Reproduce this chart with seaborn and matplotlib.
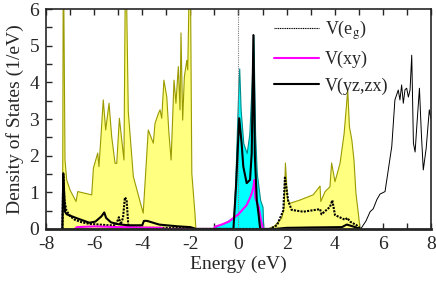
import matplotlib
matplotlib.use("Agg")
import matplotlib.pyplot as plt
from matplotlib.ticker import MultipleLocator
import seaborn as sns

# total DOS (yellow fill), two bands
total_e = [-7.31, -7.28, -7.21, -7.14, -7.00, -6.75, -6.68, -6.10, -6.03, -5.85,
           -5.80, -5.73, -5.62, -5.52, -5.38, -5.27, -5.13, -5.06, -4.95, -4.88,
           -4.76, -4.69, -4.58, -4.37, -3.96, -3.75, -3.54, -3.47, -3.33, -3.26,
           -3.19, -3.10, -2.98, -2.89, -2.80, -2.68, -2.60, -2.50, -2.43, -2.39,
           -2.32, -2.25, -2.15, -2.11, -2.01, -1.94, -1.81, -1.77,
           1.25, 1.50, 1.80, 1.90, 1.95, 2.04, 2.14, 2.56, 3.10, 3.39,
           3.42, 3.60, 3.80, 3.87, 4.01, 4.22, 4.39, 4.54, 4.61, 4.71,
           4.80, 4.88, 4.98, 5.05]
total_dos = [0.0, 8.0, 1.88, 1.34, 1.06, 0.75, 1.02, 0.93, 1.66, 2.07,
             1.70, 2.38, 3.52, 2.70, 3.43, 2.52, 1.79, 1.79, 3.02, 2.60,
             1.88, 8.0, 3.20, 1.43, 0.43, 2.70, 2.34, 2.88, 3.15, 3.25,
             3.02, 4.06, 3.60, 2.60, 1.88, 4.06, 3.43, 4.43, 3.25, 5.35,
             2.97, 4.15, 4.60, 4.34, 8.0, 1.52, 0.43, 0.0,
             0.0, 0.08, 0.30, 0.60, 1.80, 0.80, 0.70, 0.79, 0.93, 1.17,
             0.75, 1.02, 1.15, 1.80, 1.29, 1.79, 2.60, 3.79, 2.79, 2.43,
             1.88, 0.98, 0.43, 0.0]

# V d total (cyan fill)
vd_e = [-1.00, -0.98, -0.60, -0.21, -0.14, -0.07, 0.00, 0.03, 0.09, 0.20,
        0.34, 0.45, 0.55, 0.62, 0.69, 0.76, 0.90, 1.00, 1.03]
vd_dos = [0.0, 0.06, 0.16, 0.32, 1.15, 2.60, 4.00, 4.38, 3.25, 2.34,
          2.07, 2.60, 4.00, 5.29, 2.60, 1.52, 0.79, 0.60, 0.0]

# V(eg)
eg_e = [-7.32, -7.28, -7.24, -7.15, -7.00, -6.80, -6.50, -6.20, -5.80, -5.40,
        -5.10, -4.97, -4.90, -4.80, -4.72, -4.65, -4.58, -4.50, -4.00, -3.00,
        -2.00, -1.77,
        1.30, 1.60, 1.86, 1.93, 2.07, 2.21, 2.69, 3.39, 3.45, 3.80, 3.90,
        4.01, 4.43, 4.52, 4.64, 4.91, 5.08]
eg_dos = [0.0, 1.50, 0.80, 0.50, 0.35, 0.25, 0.18, 0.14, 0.12, 0.10,
          0.10, 0.32, 0.12, 0.30, 0.86, 0.80, 0.10, 0.04, 0.03, 0.03,
          0.02, 0.0,
          0.0, 0.10, 0.50, 1.40, 0.75, 0.52, 0.47, 0.54, 0.40, 0.60, 0.78,
          0.38, 0.25, 0.30, 0.20, 0.10, 0.0]

# V(xy)
xy_e = [-6.80, -6.72, -6.00, -5.50, -5.00, -4.50, -4.00, -3.20, -3.10,
        -1.00, -0.98, -0.70, -0.40, -0.21, 0.00, 0.20, 0.34, 0.48, 0.55,
        0.62, 0.66, 0.70, 0.78, 0.84, 0.92, 0.98, 1.02]
xy_dos = [0.0, 0.05, 0.07, 0.06, 0.05, 0.05, 0.04, 0.03, 0.0,
          0.0, 0.06, 0.12, 0.20, 0.30, 0.40, 0.55, 0.65, 0.85, 0.97,
          1.15, 1.34, 0.85, 0.70, 0.60, 0.30, 0.10, 0.0]

# V(yz,zx)
yz_e = [-7.32, -7.28, -7.21, -7.14, -6.75, -6.20, -5.95, -5.70, -5.58, -5.50,
        -5.30, -5.00, -4.60, -4.00, -3.93, -3.80, -3.60, -3.30, -3.00, -2.50,
        -2.00, -1.77,
        -0.21, -0.10, 0.00, 0.03, 0.13, 0.20, 0.34, 0.48, 0.55, 0.62,
        0.68, 0.76, 0.83, 0.90,
        1.50, 2.00, 3.00, 4.30, 4.50, 4.60, 4.80, 5.05]
yz_dos = [0.0, 1.52, 0.47, 0.40, 0.30, 0.17, 0.20, 0.34, 0.45, 0.30,
          0.18, 0.13, 0.10, 0.10, 0.22, 0.22, 0.18, 0.12, 0.10, 0.07,
          0.05, 0.0,
          0.0, 1.20, 2.60, 3.02, 2.34, 1.70, 1.25, 1.34, 2.07, 5.29,
          2.00, 0.79, 0.43, 0.0,
          0.0, 0.03, 0.04, 0.05, 0.12, 0.10, 0.06, 0.0]

# high-energy tail (thin line)
tail_e = [5.08, 5.30, 5.47, 5.60, 5.75, 5.88, 6.09, 6.20, 6.37, 6.50,
          6.64, 6.71, 6.78, 6.85, 6.92, 6.99, 7.06, 7.13, 7.20, 7.27,
          7.34, 7.41, 7.52, 7.60, 7.68, 7.80, 7.93, 8.00]
tail_dos = [0.0, 0.22, 0.47, 0.55, 0.80, 0.95, 1.02, 1.50, 2.25, 3.52,
            3.79, 3.52, 3.93, 3.43, 3.80, 3.84, 3.60, 3.79, 4.74, 2.34,
            2.10, 2.80, 3.84, 2.60, 1.61, 2.20, 3.25, 3.00]

sns.set_style("ticks")
plt.rcParams["font.family"] = ["Liberation Serif", "DejaVu Serif"]
plt.rcParams["mathtext.fontset"] = "stix"
plt.rcParams["axes.unicode_minus"] = False

fig = plt.figure(figsize=(4.36, 2.83), dpi=100)
ax = fig.add_axes([0.1055, 0.191, 0.883, 0.777])

ax.fill_between(total_e, total_dos, color="#ffff80", edgecolor="#9a9a00", lw=0.8, zorder=1)
ax.fill_between(vd_e, vd_dos, color="#00ffff", edgecolor="#008b8b", lw=0.8, zorder=1)
ax.axvline(0, color="#808080", ls=(0, (1, 1)), lw=0.8, zorder=1)

dotted = (0, (1, 0.6))
sns.lineplot(x=tail_e, y=tail_dos, ax=ax, color="black", lw=0.7, sort=False, estimator=None)
sns.lineplot(x=eg_e, y=eg_dos, ax=ax, color="black", lw=1.5, ls=dotted, sort=False,
             estimator=None, label=r"V(e$_\mathrm{g}$)")
sns.lineplot(x=xy_e, y=xy_dos, ax=ax, color="#ff00ff", lw=1.5, sort=False,
             estimator=None, label="V(xy)")
sns.lineplot(x=yz_e, y=yz_dos, ax=ax, color="black", lw=1.5, sort=False,
             estimator=None, label="V(yz,zx)")

ax.set_xlim(-8, 8)
ax.set_ylim(0, 6)
ax.xaxis.set_major_locator(MultipleLocator(2))
ax.xaxis.set_minor_locator(MultipleLocator(1))
ax.yaxis.set_major_locator(MultipleLocator(1))
ax.yaxis.set_minor_locator(MultipleLocator(0.5))
ax.tick_params(which="both", direction="in", top=True, right=False, length=4,
               width=1, labelsize=14, pad=5)
for side in ["left", "top", "right"]:
    ax.spines[side].set_linewidth(1.2)
ax.spines["bottom"].set_linewidth(2)

ax.set_xlabel("Energy (eV)", fontsize=14, labelpad=2)
ax.set_ylabel("Density of States (1/eV)", fontsize=14, labelpad=4)

leg = ax.legend(loc="upper left", bbox_to_anchor=(0.56, 1.015), frameon=False,
                fontsize=13, handlelength=2.5, handletextpad=0.3, labelspacing=0.5,
                borderaxespad=0.3)
leg.get_lines()[0].set_linewidth(0.8)

fig.savefig("out.png", dpi=100)
plt.close(fig)
